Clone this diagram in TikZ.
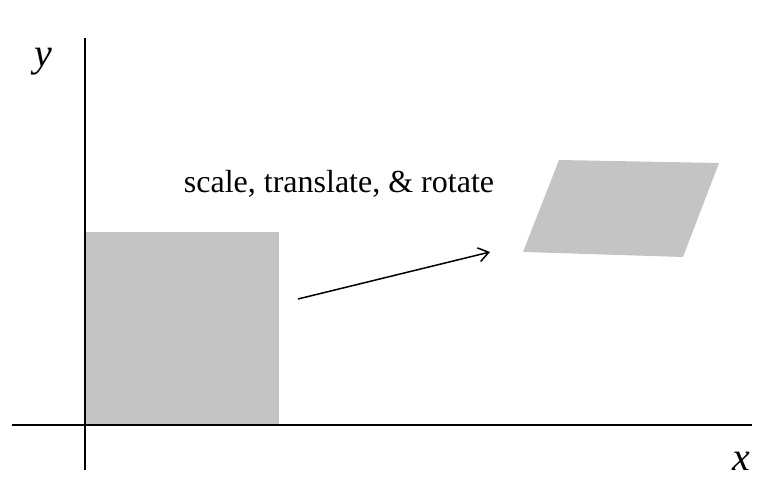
\documentclass[tikz,border=0pt]{standalone}
\usepackage{fontspec}
\setmainfont{Liberation Serif}
\usetikzlibrary{arrows.meta}
\begin{document}
\begin{tikzpicture}[x=1pt,y=-1pt,
  axis/.style={line width=1.6pt},
  shapefill/.style={fill=black!23,draw=none},
  lbl/.style={font=\fontsize{40}{46}\selectfont\itshape, inner sep=0pt}]
\useasboundingbox (0,0) rectangle (772,486);
\fill[shapefill] (85,232) rectangle (279,425);
\fill[shapefill] (559,160) -- (719,163) -- (683,257) -- (523,252) -- cycle;
\coordinate (xa) at (12,425);
\coordinate (xb) at (752,425);
\coordinate (ya) at (85,38);
\coordinate (yb) at (85,470);
\draw[axis] (xa) -- (xb);
\draw[axis] (ya) -- (yb);
\node[lbl] (ylab) at (43,62) {y};
\node[lbl] (xlab) at (741,461) {x};
\coordinate (as) at (298,299);
\coordinate (ae) at (490,252);
\draw[line width=1.5pt,-{Straight Barb[length=10pt,width=14pt]}] (as) -- (ae);
\node[font=\fontsize{32}{38}\selectfont, inner sep=0pt] (t) at (339,184) {scale, translate, \& rotate};
\end{tikzpicture}
\end{document}
